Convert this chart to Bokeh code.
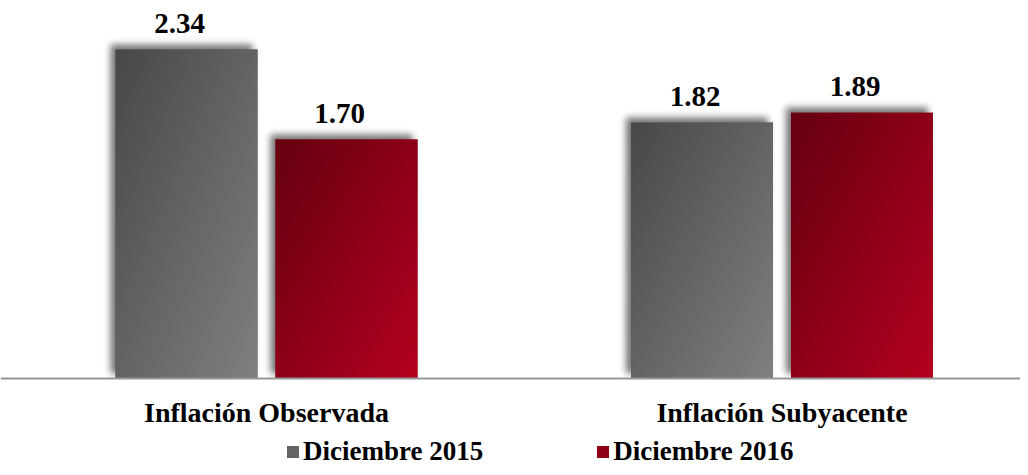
import math
import numpy as np
from bokeh.plotting import figure
from bokeh.models import Range1d, Legend, LegendItem, ColumnDataSource, Span
from bokeh.core.properties import value
from bokeh.embed import file_html
from bokeh.resources import INLINE

# ---- data ----
categories = ["Inflación Observada", "Inflación Subyacente"]
series = ["Diciembre 2015", "Diciembre 2016"]
dic_2015 = [2.34, 1.82]
dic_2016 = [1.70, 1.89]

# ---- styles / geometry ----
W, H = 1020, 467
BASE_PX = 378          # pixel row of the zero line
px_y = 140.6           # pixels per unit on y
px_x = 515.5           # pixels per unit on x (category spacing)
GROUP0_PX = 266        # pixel column of first category centre
X0 = -GROUP0_PX / px_x
X1 = X0 + W / px_x
Y0 = -(H - BASE_PX) / px_y
Y1 = BASE_PX / px_y
OFFSET = 80 / px_x
BAR_W = 142 / px_x
FONT = "Liberation Serif"

GRAY0, GRAY1 = (0x48, 0x48, 0x48), (0x80, 0x80, 0x80)
RED0, RED1 = (0x66, 0x00, 0x10), (0xB4, 0x00, 0x1F)


def to_rgba(r, g, b, a):
    ny, nx = r.shape
    img = np.empty((ny, nx), dtype=np.uint32)
    view = img.view(dtype=np.uint8).reshape((ny, nx, 4))
    view[:, :, 0] = r
    view[:, :, 1] = g
    view[:, :, 2] = b
    view[:, :, 3] = a
    return img


def gradient(nx, ny, c0, c1):
    u = np.linspace(0, 1, nx)[None, :]
    v = np.linspace(1, 0, ny)[:, None]  # row 0 is bottom
    t = (u + v) / 2.0
    chans = [np.clip(c0[k] + (c1[k] - c0[k]) * t, 0, 255).astype(np.uint8) for k in range(3)]
    return to_rgba(chans[0], chans[1], chans[2], np.full(t.shape, 255, np.uint8))


def blur_profile(coords, lo, hi, sigma):
    s = sigma * math.sqrt(2)
    return np.array([0.5 * (math.erf((c - lo) / s) - math.erf((c - hi) / s)) for c in coords])


def shadow(wpx, hpx, dx, dy, sigma, margin, amax):
    xs = np.arange(-margin, wpx + margin) + 0.5
    ys = np.arange(-margin, hpx + margin) + 0.5
    fx = blur_profile(xs, dx, wpx + dx, sigma)
    fy = blur_profile(ys, dy, hpx + dy, sigma)
    a = (amax * 255 * np.outer(fy, fx)).astype(np.uint8)
    z = np.zeros(a.shape, np.uint8)
    return to_rgba(z, z, z, a)


idx = np.arange(len(categories))
x_2015 = idx - OFFSET
x_2016 = idx + OFFSET

p = figure(width=W, height=H, x_range=Range1d(X0, X1), y_range=Range1d(Y0, Y1),
           output_backend="svg", toolbar_location=None,
           x_axis_location=None, y_axis_location=None,
           min_border_left=0, min_border_right=0, min_border_top=0,
           min_border_bottom=0)
p.outline_line_color = None
p.grid.visible = False
p.background_fill_color = "white"
p.border_fill_color = "white"

# shadows and gradient images
MARGIN = 14
sh_img, sh_x, sh_y, sh_dw, sh_dh = [], [], [], [], []
gr_img, gr_x, gr_y, gr_dw, gr_dh = [], [], [], [], []
for xs, vals, c0, c1 in ((x_2015, dic_2015, GRAY0, GRAY1), (x_2016, dic_2016, RED0, RED1)):
    for xc, v in zip(xs, vals):
        wpx = int(round(BAR_W * px_x))
        hpx = int(round(v * px_y))
        img = shadow(wpx, hpx, -5, 5, 3.5, MARGIN, 0.55)
        img[:MARGIN, :] = 0  # nothing below the zero line
        sh_img.append(img)
        sh_x.append(xc - BAR_W / 2 - MARGIN / px_x)
        sh_y.append(-MARGIN / px_y)
        sh_dw.append((wpx + 2 * MARGIN) / px_x)
        sh_dh.append((hpx + 2 * MARGIN) / px_y)
        gr_img.append(gradient(wpx, hpx, c0, c1))
        gr_x.append(xc - BAR_W / 2)
        gr_y.append(0)
        gr_dw.append(BAR_W)
        gr_dh.append(v)

p.image_rgba(image=sh_img, x=sh_x, y=sh_y, dw=sh_dw, dh=sh_dh)

r0 = p.vbar(x=x_2015, top=dic_2015, width=BAR_W, bottom=0,
            fill_color="#646464", line_color=None)
r1 = p.vbar(x=x_2016, top=dic_2016, width=BAR_W, bottom=0,
            fill_color="#8E0018", line_color=None)

p.image_rgba(image=gr_img, x=gr_x, y=gr_y, dw=gr_dw, dh=gr_dh)

# zero line (category axis line)
p.add_layout(Span(location=0, dimension="width", line_color="#969696", line_width=2))

# value labels
lab_src = ColumnDataSource(dict(
    x=list(x_2015) + list(x_2016),
    y=dic_2015 + dic_2016,
    t=[f"{v:.2f}" for v in dic_2015 + dic_2016],
))
p.text(x="x", y="y", text="t", source=lab_src, text_font=value(FONT),
       text_font_style="bold", text_font_size="29px", text_color="black",
       text_align="center", text_baseline="alphabetic", x_offset=-7, y_offset=-26)

# category labels
cat_src = ColumnDataSource(dict(x=list(idx), y=[0] * len(idx), t=categories))
p.text(x="x", y="y", text="t", source=cat_src, text_font=value(FONT),
       text_font_style="bold", text_font_size="28px", text_color="black",
       text_align="center", text_baseline="alphabetic", y_offset=34)

legend = Legend(items=[LegendItem(label=series[0], renderers=[r0]),
                       LegendItem(label=series[1], renderers=[r1])],
                orientation="horizontal", location=(285, 0),
                glyph_width=15, glyph_height=15, label_height=15,
                label_standoff=3, spacing=112,
                padding=0, margin=0, border_line_color=None,
                background_fill_alpha=0,
                label_text_font=FONT, label_text_font_style="bold",
                label_text_font_size="27px", label_text_color="black")
p.add_layout(legend, "center")

open("out.html", "w").write(file_html(p, INLINE))
